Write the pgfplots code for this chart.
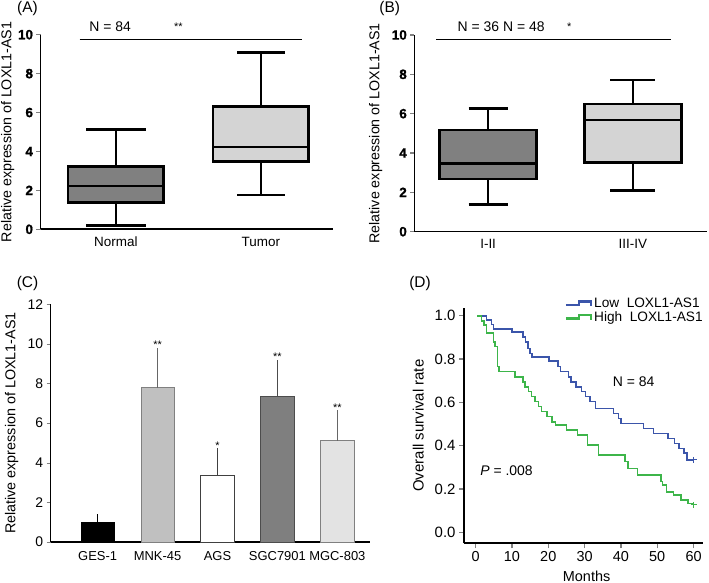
\documentclass[border=0pt]{standalone}
\usepackage{pgfplots}
\pgfplotsset{compat=1.18}
\usepgfplotslibrary{statistics}
\usepackage{fontspec}
\setmainfont{Liberation Sans}
\newfontface\boldsans{Liberation Sans Bold}[FakeBold=1.2]

\definecolor{boxdark}{HTML}{808080}
\definecolor{boxlight}{HTML}{D4D4D4}
\definecolor{barmnk}{HTML}{C0C0C0}
\definecolor{barsgc}{HTML}{7F7F7F}
\definecolor{barmgc}{HTML}{E3E3E3}
\definecolor{kmblue}{HTML}{3B55AA}
\definecolor{kmgreen}{HTML}{3DB54A}

\newcommand{\pfont}[1]{\fontsize{#1}{#1}\selectfont}

\pgfplotsset{
  panel/.style={
    scale only axis, clip=false,
    axis x line=bottom, axis y line=left,
    axis line style={-, line width=1.6bp},
    tick align=outside, major tick length=4bp,
    /pgf/number format/assume math mode=true,
  },
  boxpanel/.style={
    panel, ymin=0, ymax=10, ytick={0,2,...,10},
    xtick={1,2}, major x tick style={draw=none},
    boxplot/draw direction=y,
    yticklabel style={font=\boldsans\pfont{13.5}},
    xticklabel style={font=\pfont{13.5}},
    ylabel style={font=\pfont{14.3}, anchor=center},
    ylabel={Relative expression of LOXL1-AS1},
    major y tick style={line width=1.2bp},
  },
}

\begin{document}
\begin{tikzpicture}
\useasboundingbox (0,0) rectangle (709bp,583bp);

\node[font=\pfont{15.5}] at (27.5bp,574.7bp) {(A)};
\node[font=\pfont{15.5}] at (389.7bp,574.7bp) {(B)};
\node[font=\pfont{15.5}] at (27.5bp,299.7bp) {(C)};
\node[font=\pfont{15.5}] at (420bp,299bp) {(D)};

% ---------- (A) ----------
\begin{axis}[boxpanel,
    at={(40.5bp,353.7bp)}, anchor=south west,
    width=292.5bp, height=194.6bp,
    xmin=0.48, xmax=2.497,
    xticklabels={Normal,Tumor},
    ylabel style={at={(axis description cs:-0.112,0.5)}},
  ]
  \addplot[boxplot prepared={lower whisker=0.19, lower quartile=1.39,
      median=2.23, upper quartile=3.22, upper whisker=5.12,
      draw position=1, box extend=0.66, whisker extend=0.41},
    draw=black, fill=boxdark, line width=2.6bp] coordinates {};
  \addplot[boxplot prepared={lower whisker=1.76, lower quartile=3.49,
      median=4.23, upper quartile=6.30, upper whisker=9.07,
      draw position=2, box extend=0.66, whisker extend=0.33},
    draw=black, fill=boxlight, line width=2.6bp] coordinates {};
  \addplot[black, line width=1bp] coordinates {(0.75,9.76) (2.28,9.76)};
  \node[font=\pfont{14}] at (axis cs:0.96,10.42) {N = 84};
  \node[font=\pfont{11}] at (axis cs:1.43,10.42) {**};
\end{axis}

% ---------- (B) ----------
\begin{axis}[boxpanel,
    at={(414.3bp,351.3bp)}, anchor=south west,
    width=292.4bp, height=196.7bp,
    xmin=0.49, xmax=2.51,
    xticklabels={I-II,III-IV},
    ylabel style={at={(axis description cs:-0.132,0.5)}},
  ]
  \addplot[boxplot prepared={lower whisker=1.39, lower quartile=2.68,
      median=3.47, upper quartile=5.17, upper whisker=6.27,
      draw position=1, box extend=0.67, whisker extend=0.27},
    draw=black, fill=boxdark, line width=2.6bp] coordinates {};
  \addplot[boxplot prepared={lower whisker=2.08, lower quartile=3.51,
      median=5.68, upper quartile=6.49, upper whisker=7.71,
      draw position=2, box extend=0.67, whisker extend=0.31},
    draw=black, fill=boxlight, line width=2.6bp] coordinates {};
  \addplot[black, line width=1bp] coordinates {(0.64,9.78) (2.26,9.78)};
  \node[font=\pfont{14}] at (axis cs:1.09,10.42) {N = 36 N = 48};
  \node[font=\pfont{11}] at (axis cs:1.56,10.42) {*};
\end{axis}

% ---------- (C) ----------
\begin{axis}[panel,
    at={(50.7bp,41bp)}, anchor=south west,
    width=319bp, height=237.7bp,
    xmin=-0.783, xmax=4.54, ymin=0, ymax=12,
    ytick={0,2,...,12},
    xtick={0,1,2,3,4},
    xticklabels={GES-1,MNK-45,AGS,SGC7901,MGC-803},
    major x tick style={draw=none},
    axis line style={-, line width=1.4bp},
    yticklabel style={font=\pfont{14}},
    xticklabel style={font=\pfont{13}, yshift=-2bp},
    ylabel={Relative expression of LOXL1-AS1},
    ylabel style={font=\pfont{14.4}, anchor=center, at={(axis description cs:-0.122,0.5)}},
    ybar, bar width=0.555,
  ]
  \addplot[bar shift=0pt, fill=black, draw=black, line width=0.8bp,
    error bars/.cd, y dir=plus, y explicit,
    error bar style={line width=0.9bp, black},
    error mark options={line width=0.9bp, mark size=3.5bp, black}]
    coordinates {(0,0.98) +- (0,0.25)};
  \addplot[bar shift=0pt, fill=barmnk, draw=gray, line width=0.8bp,
    error bars/.cd, y dir=plus, y explicit,
    error bar style={line width=0.9bp, gray!80!black},
    error mark options={line width=0.9bp, mark size=3.5bp, gray!80!black}]
    coordinates {(1,7.79) +- (0,1.81)};
  \addplot[bar shift=0pt, fill=white, draw=black!75, line width=0.8bp,
    error bars/.cd, y dir=plus, y explicit,
    error bar style={line width=0.9bp, black!75},
    error mark options={line width=0.9bp, mark size=3.5bp, black!75}]
    coordinates {(2,3.35) +- (0,1.20)};
  \addplot[bar shift=0pt, fill=barsgc, draw=black!70, line width=0.8bp,
    error bars/.cd, y dir=plus, y explicit,
    error bar style={line width=0.9bp, black!70},
    error mark options={line width=0.9bp, mark size=3.5bp, black!70}]
    coordinates {(3,7.34) +- (0,1.65)};
  \addplot[bar shift=0pt, fill=barmgc, draw=gray, line width=0.8bp,
    error bars/.cd, y dir=plus, y explicit,
    error bar style={line width=0.9bp, gray!80!black},
    error mark options={line width=0.9bp, mark size=3.5bp, gray!80!black}]
    coordinates {(4,5.12) +- (0,1.36)};
  \node[font=\pfont{11}] at (axis cs:1,9.95) {**};
  \node[font=\pfont{11}] at (axis cs:2,4.85) {*};
  \node[font=\pfont{11}] at (axis cs:3,9.34) {**};
  \node[font=\pfont{11}] at (axis cs:4,6.80) {**};
\end{axis}

% ---------- (D) ----------
\begin{axis}[panel,
    at={(464bp,39.7bp)}, anchor=south west,
    width=239bp, height=235.3bp,
    xmin=-3.2, xmax=62.6, ymin=-0.051, ymax=1.036,
    xtick={0,10,...,60}, ytick={0,0.2,...,1.0},
    major tick length=5bp,
    major tick style={line width=1.2bp},
    axis line style={-, line width=1.8bp},
    yticklabel style={font=\pfont{15}, /pgf/number format/.cd, fixed, fixed zerofill, precision=1},
    xticklabel style={font=\pfont{14.5}},
    xlabel={Months}, ylabel={Overall survival rate},
    xlabel style={font=\pfont{14.5}, anchor=center, at={(axis description cs:0.513,-0.139)}},
    ylabel style={font=\pfont{15}, anchor=center, at={(axis description cs:-0.191,0.5)}},
    legend style={at={(axis description cs:0.42,1.052)}, anchor=north west,
      draw=none, fill=none, font=\pfont{13.7}, inner sep=0pt,
      row sep=-1.5bp, cells={anchor=west}},
  ]
  \addlegendimage{legend image code/.code={\draw[kmblue, line width=2.6bp]
      (0bp,-1.5bp) -- (13bp,-1.5bp) -- (13bp,2bp) -- (25bp,2bp) -- (25bp,-3bp);}}
  \addlegendentry{Low\ \ LOXL1-AS1}
  \addlegendimage{legend image code/.code={\draw[kmgreen, line width=2.6bp]
      (0bp,-1.5bp) -- (13bp,-1.5bp) -- (13bp,2bp) -- (25bp,2bp) -- (25bp,-3bp);}}
  \addlegendentry{High\ \ LOXL1-AS1}

  \addplot[const plot, kmblue, line width=1.5bp, forget plot] coordinates {
    (0.5,1.0) (3,0.98) (4.4,0.96) (4.9,0.94) (10,0.926) (13,0.903)
    (13.7,0.88) (14.4,0.85) (15,0.826) (15.5,0.81) (20.2,0.79) (22.7,0.765)
    (23.3,0.742) (25.5,0.718) (26.2,0.695) (27.7,0.672) (29.2,0.65)
    (30.2,0.626) (31.5,0.603) (33,0.572) (38,0.549) (39.3,0.526) (40,0.503)
    (46.2,0.48) (49,0.457) (53,0.434) (54.8,0.41) (56,0.388) (57.3,0.365)
    (58.2,0.334) (60,0.334)};
  \addplot[const plot, kmgreen, line width=1.5bp, forget plot] coordinates {
    (0.5,1.0) (1.6,0.977) (2.3,0.957) (3,0.92) (4.9,0.88) (5.3,0.857)
    (6,0.765) (6.5,0.742) (10.8,0.718) (13,0.695) (13.6,0.672) (14.5,0.65)
    (15.4,0.626) (16.3,0.603) (17.3,0.58) (18.2,0.557) (19.6,0.534) (21,0.51)
    (22,0.495) (25,0.472) (28,0.449) (30.8,0.403) (33.8,0.357) (41.1,0.326)
    (42,0.295) (44.5,0.265) (51,0.234) (51.5,0.218) (52.5,0.187) (54.5,0.172)
    (56.5,0.149) (58.5,0.134) (60,0.126)};
  \addplot[only marks, mark=+, mark size=3bp, kmblue, line width=1bp, forget plot]
    coordinates {(60,0.334)};
  \addplot[only marks, mark=+, mark size=3bp, kmgreen, line width=1bp, forget plot]
    coordinates {(60,0.126)};
  \node[font=\pfont{14}] at (axis cs:43.5,0.695) {N = 84};
  \node[font=\pfont{14}] at (axis cs:8.5,0.283) {\textit{P} = .008};
\end{axis}
\end{tikzpicture}
\end{document}
